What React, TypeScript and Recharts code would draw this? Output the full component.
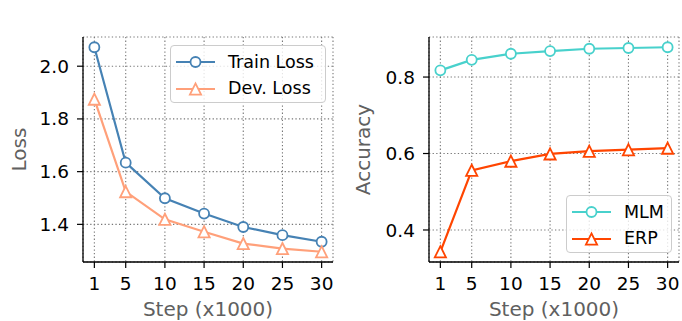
import React from 'react';
import { LineChart, Line, XAxis, YAxis, CartesianGrid, Legend } from 'recharts';

// values
const steps = [1, 5, 10, 15, 20, 25, 30];
const trainLoss = [2.072, 1.634, 1.499, 1.441, 1.39, 1.359, 1.334];
const devLoss = [1.875, 1.524, 1.419, 1.372, 1.327, 1.308, 1.296];
const mlmAcc = [0.8175, 0.845, 0.861, 0.868, 0.874, 0.876, 0.878];
const erpAcc = [0.343, 0.556, 0.58, 0.599, 0.606, 0.61, 0.614];

const lossTicks = [1.4, 1.6, 1.8, 2.0];
const accTicks = [0.4, 0.6, 0.8];

const FONT = '"DejaVu Sans", sans-serif';
const GREY = '#606060';

type Shape = 'circle' | 'triangle';
type Series = { key: string; name: string; color: string; shape: Shape; values: number[] };

// matplotlib-style 5% padding around the data
function padded(vals: number[]): [number, number] {
  const lo = Math.min(...vals);
  const hi = Math.max(...vals);
  const m = (hi - lo) * 0.05;
  return [lo - m, hi + m];
}

const xDomain = padded(steps);

function Marker({ cx, cy, color, shape }: { cx: number; cy: number; color: string; shape: Shape }) {
  if (shape === 'circle') {
    return <circle cx={cx} cy={cy} r={5} fill="#fff" stroke={color} strokeWidth={1.8} />;
  }
  const h = 5.6;
  return (
    <path
      d={`M${cx},${cy - h}L${cx + h},${cy + h}L${cx - h},${cy + h}Z`}
      fill="#fff"
      stroke={color}
      strokeWidth={1.8}
    />
  );
}

function dotFor(color: string, shape: Shape) {
  return (p: any) => <Marker key={`d-${p.index}`} cx={p.cx} cy={p.cy} color={color} shape={shape} />;
}

function LegendBox({ items }: { items: Series[] }) {
  return (
    <div
      style={{
        boxSizing: 'border-box',
        width: '100%',
        height: '100%',
        border: '1px solid #ccc',
        borderRadius: 4,
        background: 'rgba(255,255,255,0.8)',
        padding: '3px 0 0 5px',
        fontFamily: FONT,
      }}
    >
      {items.map((it) => (
        <div key={it.key} style={{ display: 'flex', alignItems: 'center', height: 26.6 }}>
          <svg width={39} height={18} style={{ display: 'block' }}>
            <line x1={0} y1={9} x2={39} y2={9} stroke={it.color} strokeWidth={2.2} />
            <Marker cx={19.5} cy={9} color={it.color} shape={it.shape} />
          </svg>
          <span style={{ marginLeft: 13, fontSize: 17.5, color: '#000', lineHeight: 1 }}>{it.name}</span>
        </div>
      ))}
    </div>
  );
}

type PanelProps = {
  left: number;
  title: string;
  yLabel: string;
  yLabelX: number;
  series: Series[];
  yTicks: number[];
  yAxisWidth: number;
  marginRight: number;
  legendPos: { left: number; top: number; width: number; height: number };
};

function Panel({ left, title, yLabel, yLabelX, series, yTicks, yAxisWidth, marginRight, legendPos }: PanelProps) {
  const data = steps.map((s, i) => {
    const row: Record<string, number> = { step: s };
    series.forEach((se) => (row[se.key] = se.values[i]));
    return row;
  });
  const yDomain = padded(series.flatMap((s) => s.values));
  const frame = { stroke: '#000', strokeWidth: 1.3 };

  return (
    <div style={{ position: 'absolute', left, top: 0 }}>
      <LineChart width={341} height={321} data={data} margin={{ top: 37, right: marginRight, bottom: 0, left: 0 }}>
        <CartesianGrid stroke="#777" strokeDasharray="1.3 2.3" strokeWidth={1.1} />
        <XAxis
          dataKey="step"
          type="number"
          domain={xDomain}
          allowDataOverflow
          ticks={steps}
          interval={0}
          height={59}
          tickSize={6}
          tickMargin={9}
          tick={{ fontSize: 18.5, fill: '#000' }}
          tickLine={{ stroke: '#000', strokeWidth: 1.2 }}
          axisLine={frame}
          label={{
            content: (p: any) => (
              <text x={p.viewBox.x + p.viewBox.width / 2} y={p.viewBox.y + 54} textAnchor="middle" fontSize={20} fill={GREY}>
                Step (x1000)
              </text>
            ),
          }}
        />
        <XAxis
          xAxisId="top"
          orientation="top"
          dataKey="step"
          type="number"
          domain={xDomain}
          allowDataOverflow
          height={0}
          tick={false}
          tickLine={false}
          axisLine={frame}
          label={{
            content: (p: any) => (
              <text x={p.viewBox.x + p.viewBox.width / 2} y={p.viewBox.y - 11} textAnchor="middle" fontSize={20} fill={GREY}>
                {title}
              </text>
            ),
          }}
        />
        <YAxis
          type="number"
          domain={yDomain}
          allowDataOverflow
          ticks={yTicks}
          interval={0}
          width={yAxisWidth}
          tickSize={6}
          tickMargin={8}
          tickFormatter={(v: number) => v.toFixed(1)}
          tick={{ fontSize: 18.5, fill: '#000' }}
          tickLine={{ stroke: '#000', strokeWidth: 1.2 }}
          axisLine={frame}
          label={{
            content: (p: any) => {
              const x = p.viewBox.x + yLabelX;
              const y = p.viewBox.y + p.viewBox.height / 2;
              return (
                <text x={x} y={y} transform={`rotate(-90 ${x} ${y})`} textAnchor="middle" fontSize={20} fill={GREY}>
                  {yLabel}
                </text>
              );
            },
          }}
        />
        <YAxis
          yAxisId="right"
          orientation="right"
          type="number"
          domain={yDomain}
          allowDataOverflow
          width={0}
          tick={false}
          tickLine={false}
          axisLine={frame}
        />
        {series.map((s) => (
          <Line
            key={s.key}
            type="linear"
            dataKey={s.key}
            name={s.name}
            stroke={s.color}
            strokeWidth={2.2}
            dot={dotFor(s.color, s.shape)}
            activeDot={false}
            isAnimationActive={false}
          />
        ))}
        <Legend
          layout="vertical"
          align="center"
          verticalAlign="middle"
          wrapperStyle={legendPos}
          content={() => <LegendBox items={series} />}
        />
      </LineChart>
    </div>
  );
}

const lossSeries: Series[] = [
  { key: 'train', name: 'Train Loss', color: '#4682b4', shape: 'circle', values: trainLoss },
  { key: 'dev', name: 'Dev. Loss', color: '#ffa07a', shape: 'triangle', values: devLoss },
];

const accSeries: Series[] = [
  { key: 'mlm', name: 'MLM', color: '#48d1cc', shape: 'circle', values: mlmAcc },
  { key: 'erp', name: 'ERP', color: '#ff4500', shape: 'triangle', values: erpAcc },
];

export default function App() {
  return (
    <div style={{ position: 'absolute', left: 0, top: 0, width: 682, height: 321, fontFamily: FONT, background: '#fff' }}>
      <Panel
        left={0}
        title="Loss ESCOLM-R"
        yLabel="Loss"
        yLabelX={26}
        series={lossSeries}
        yTicks={lossTicks}
        yAxisWidth={83}
        marginRight={8}
        legendPos={{ left: 170, top: 45, width: 156, height: 58 }}
      />
      <Panel
        left={341}
        title="Accuracy Objectives"
        yLabel="Accuracy"
        yLabelX={29}
        series={accSeries}
        yTicks={accTicks}
        yAxisWidth={88}
        marginRight={3}
        legendPos={{ left: 225, top: 195, width: 106, height: 58 }}
      />
    </div>
  );
}
